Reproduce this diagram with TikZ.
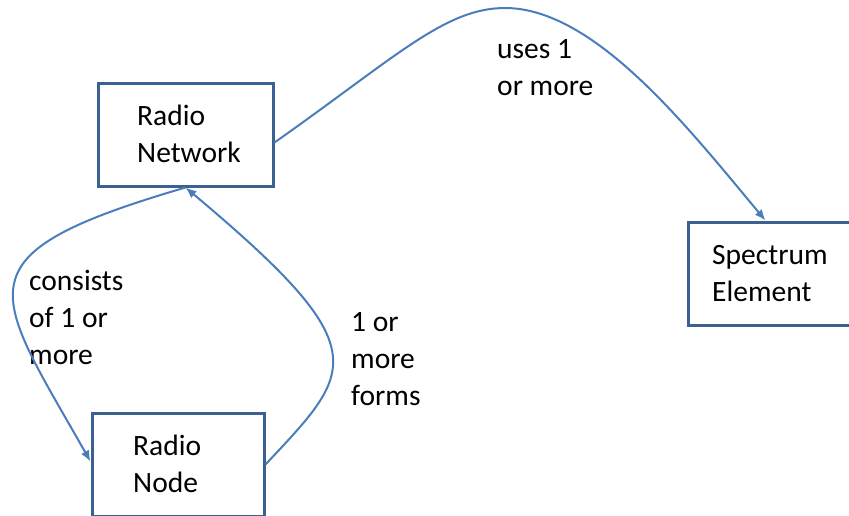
\documentclass[tikz,border=0pt]{standalone}
\usepackage{fontspec}
\setmainfont{Carlito}
\usetikzlibrary{calc,arrows.meta}
\definecolor{boxcol}{HTML}{3B6092}
\definecolor{arrcol}{HTML}{4A7EBB}
\begin{document}
\begin{tikzpicture}[x=1pt,y=-1pt,
  box/.style={draw=boxcol, line width=3pt, minimum width=175pt, minimum height=103pt, inner sep=0pt},
  lbl/.style={anchor=base west, align=left, inner sep=0pt, font=\fontsize{29.5}{37}\selectfont},
  conn/.style={draw=arrcol, line width=2pt},
  tip/.style={-{Latex[length=11pt,width=9pt]}}]
\clip (0,0) rectangle (849,515);
\node[box] (rn) at (185.5,134.5) {};
\node[box] (se) at (775.5,273.5) {};
\node[box, minimum width=172pt] (rnd) at (178,464.5) {};
\node[lbl] (t1) at (137,162) {Radio\\Network};
\node[lbl] (t2) at (712,301) {Spectrum\\Element};
\node[lbl] (t3) at (133,492) {Radio\\Node};
\node[lbl] (t4) at (29,364) {consists\\of 1 or\\more};
\node[lbl] (t5) at (351,405) {1 or\\more\\forms};
\node[lbl] (t6) at (497,95) {uses 1\\or more};
\coordinate (peak) at (505,8);
\draw[conn,tip] ($(rn.east)+(0,8)$) .. controls (396,57) and (445,8) .. (peak)
  .. controls (595,8) and (689,129) .. ($(se.north)+(-10,0)$);
\draw[conn,tip] (rn.south) .. controls (-45,255) and (-8,288) .. ($(rnd.west)+(0,-3)$);
\draw[conn,tip] (rnd.east) .. controls (354,370) and (379.5,350) .. (rn.south);
\end{tikzpicture}
\end{document}
